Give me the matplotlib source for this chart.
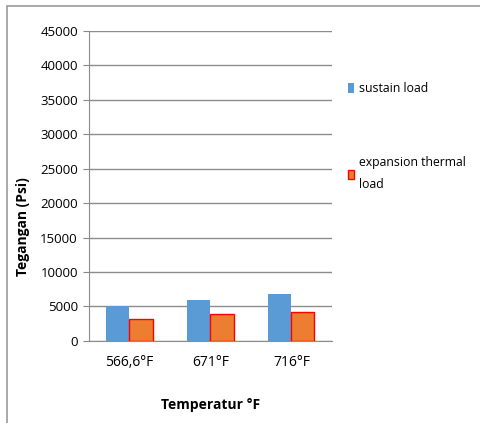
import numpy as np
import matplotlib.pyplot as plt
from matplotlib.patches import Rectangle

categories = ["566,6°F", "671°F", "716°F"]
sustain = [5000, 5900, 6820]
expansion = [3150, 3870, 4260]
yticks = [0, 5000, 10000, 15000, 20000, 25000, 30000, 35000, 40000, 45000]

plt.rcParams['font.family'] = ['Open Sans', 'DejaVu Sans']

fig = plt.figure(figsize=(4.81, 4.23), dpi=100)
ax = fig.add_axes([0.185, 0.194, 0.505, 0.733])

x = np.arange(len(categories))
w = 0.285
ax.bar(x - w/2, sustain, w, color="#5B9BD5", label="sustain load", zorder=3)
ax.bar(x + w/2, expansion, w, color="#ED7D31", edgecolor="#FF0000", linewidth=1,
       label="expansion thermal\nload", zorder=3)

ax.set_xlim(-0.5, 2.5)
ax.set_ylim(0, 45000)
ax.set_yticks(yticks)
ax.set_yticklabels([str(v) for v in yticks], fontsize=9.5)
ax.set_xticks(x)
ax.set_xticklabels(categories, fontsize=10)
ax.tick_params(axis='x', length=0, pad=10)
ax.tick_params(axis='y', length=4, color="#888888", pad=4)
ax.yaxis.grid(True, color="#8c8c8c", linewidth=1)
ax.set_axisbelow(True)
for s in ["top", "right"]:
    ax.spines[s].set_visible(False)
ax.spines["left"].set_color("#8c8c8c")
ax.spines["bottom"].set_color("#8c8c8c")

fig.text(23/481, 1 - 227/423, "Tegangan (Psi)", rotation=90, fontsize=10,
         fontweight='bold', ha='center', va='center')
ax.set_xlabel("Temperatur °F", fontsize=10, fontweight='bold', labelpad=20)

leg = ax.legend(loc="upper left", bbox_to_anchor=(1.02, 0.87), frameon=False,
                fontsize=8.8, handlelength=0.55, handleheight=0.8, handletextpad=0.35,
                labelspacing=5.0)
leg.get_texts()[1].set_linespacing(1.9)

fig.patches.append(Rectangle((7/481, -0.1), 1.2, 1 - 6/423 + 0.1, transform=fig.transFigure,
                             fill=False, edgecolor="#999999", linewidth=1.2))

fig.savefig("out.png", dpi=100)
